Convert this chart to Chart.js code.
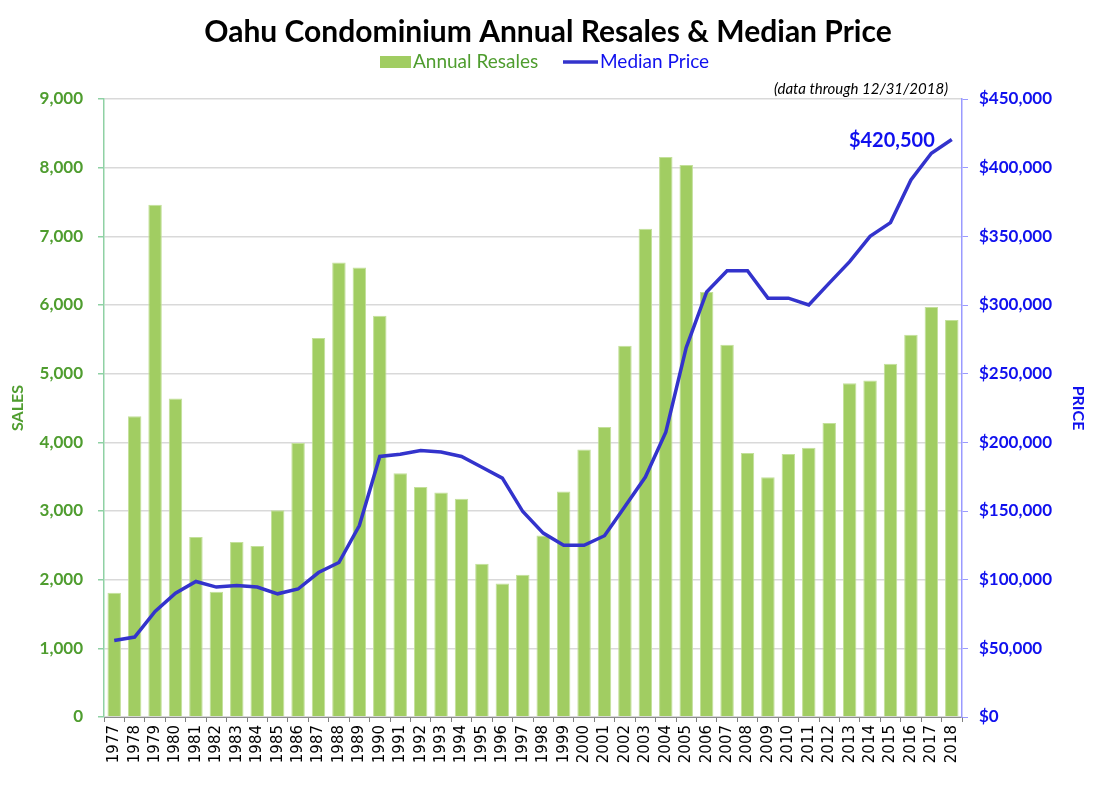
<!DOCTYPE html>
<html>
<head>
<meta charset="utf-8">
<script src="https://cdn.jsdelivr.net/npm/chart.js@4.4.1/dist/chart.umd.min.js"></script>
<style>
  html, body { margin: 0; padding: 0; background: #ffffff; }
  #wrap { width: 1096px; height: 800px; position: relative; }
</style>
</head>
<body>
<div id="wrap"><canvas id="c" width="1096" height="800"></canvas></div>
<script>
const years = ['1977','1978','1979','1980','1981','1982','1983','1984','1985','1986','1987','1988','1989','1990','1991','1992','1993','1994','1995','1996','1997','1998','1999','2000','2001','2002','2003','2004','2005','2006','2007','2008','2009','2010','2011','2012','2013','2014','2015','2016','2017','2018'];
const annualResales = [1810,4380,7460,4640,2620,1825,2550,2490,3010,3990,5520,6620,6545,5845,3550,3350,3270,3180,2230,1945,2070,2645,3285,3895,4225,5405,7110,8155,8040,6190,5420,3845,3490,3830,3920,4280,4860,4900,5145,5565,5970,5780];
const medianPrice = [55700,58200,76900,90200,98700,94600,95800,94600,89700,93200,105200,112500,139400,189700,191400,194000,192900,189700,181900,173900,149600,133900,125000,125000,132000,153300,174700,207400,269000,309500,325000,325000,305000,305000,300000,315900,331600,350000,360000,391000,410500,420500];
const salesTicks = [0,1000,2000,3000,4000,5000,6000,7000,8000,9000];
const priceTicks = [0,50000,100000,150000,200000,250000,300000,350000,400000,450000];
const titleText = 'Oahu Condominium Annual Resales & Median Price';
const noteText = '(data through 12/31/2018)';
const lastPriceLabel = '$420,500';

const GREEN_TXT = '#4f9d2f';
const BLUE_TXT = '#1010ee';
const BAR = '#a1cd62';
const LINE = '#3333cc';

const overlay = {
  id: 'overlay',
  afterDraw(chart) {
    const ctx = chart.ctx;
    ctx.save();
    // legend
    ctx.fillStyle = BAR;
    ctx.fillRect(380, 56, 31, 12);
    ctx.font = '19px Lato';
    ctx.textBaseline = 'middle';
    ctx.textAlign = 'left';
    ctx.fillStyle = GREEN_TXT;
    ctx.fillText('Annual Resales', 413, 62);
    ctx.strokeStyle = LINE;
    ctx.lineWidth = 3.5;
    ctx.beginPath();
    ctx.moveTo(563, 62);
    ctx.lineTo(598, 62);
    ctx.stroke();
    ctx.fillStyle = BLUE_TXT;
    ctx.fillText('Median Price', 600, 62);
    // note
    ctx.font = 'italic 15px Lato';
    ctx.fillStyle = '#000000';
    ctx.textAlign = 'right';
    ctx.fillText(noteText, 948, 89);
    // last price label
    const meta = chart.getDatasetMeta(1);
    const pt = meta.data[meta.data.length - 1];
    ctx.font = 'bold 20px Lato';
    ctx.fillStyle = BLUE_TXT;
    ctx.textAlign = 'right';
    ctx.fillText(lastPriceLabel, pt.x - 17, pt.y + 1);
    ctx.restore();
  }
};

new Chart(document.getElementById('c'), {
  data: {
    labels: years,
    datasets: [
      {
        type: 'bar',
        label: 'Annual Resales',
        data: annualResales,
        backgroundColor: BAR,
        borderColor: '#c3e09a',
        borderWidth: 1,
        barPercentage: 0.66,
        categoryPercentage: 1.0,
        yAxisID: 'y',
        order: 2
      },
      {
        type: 'line',
        label: 'Median Price',
        data: medianPrice,
        borderColor: LINE,
        backgroundColor: LINE,
        borderWidth: 3.5,
        pointRadius: 0,
        tension: 0,
        yAxisID: 'y1',
        order: 1
      }
    ]
  },
  options: {
    responsive: false,
    animation: false,
    devicePixelRatio: 1,
    layout: { padding: { top: 0, left: 0, right: 0, bottom: 0 } },
    plugins: {
      legend: { display: false },
      tooltip: { enabled: false },
      title: {
        display: true,
        text: titleText,
        color: '#000000',
        font: { family: 'Lato', size: 30, weight: 'bold' },
        padding: { top: 14, bottom: 49 }
      }
    },
    scales: {
      x: {
        type: 'category',
        grid: { display: true, drawOnChartArea: false, offset: true, color: '#7f7f7f', tickLength: 5 },
        border: { display: true, color: '#8c8c8c', width: 1 },
        ticks: {
          color: '#000000',
          font: { family: 'DejaVu Sans', size: 15 },
          minRotation: 90,
          maxRotation: 90,
          autoSkip: false,
          padding: 3
        },
        afterFit(s) { s.height = 83; }
      },
      y: {
        position: 'left',
        min: 0,
        max: 9000,
        afterBuildTicks(s) { s.ticks = salesTicks.map(v => ({ value: v })); },
        grid: { color: '#d9d9d9', lineWidth: 1.5, tickColor: '#8fd1a4', tickLength: 6 },
        border: { display: true, color: '#8fd1a4', width: 1.5 },
        ticks: {
          color: GREEN_TXT,
          font: { family: 'Lato', size: 17, weight: 'bold' },
          padding: 15,
          callback: v => v.toLocaleString('en-US')
        },
        title: {
          display: true,
          text: 'SALES',
          color: GREEN_TXT,
          font: { family: 'Lato', size: 16, weight: 'bold' },
          padding: { top: 8, bottom: 0 }
        },
        afterFit(s) { s.width = 104; }
      },
      y1: {
        position: 'right',
        min: 0,
        max: 450000,
        afterBuildTicks(s) { s.ticks = priceTicks.map(v => ({ value: v })); },
        grid: { drawOnChartArea: false, tickColor: '#9a9aff', tickLength: 6 },
        border: { display: true, color: '#9a9aff', width: 1.5 },
        ticks: {
          color: BLUE_TXT,
          font: { family: 'Lato', size: 17, weight: 'bold' },
          padding: 11,
          callback: v => '$' + v.toLocaleString('en-US')
        },
        title: {
          display: true,
          text: 'PRICE',
          color: BLUE_TXT,
          font: { family: 'Lato', size: 16, weight: 'bold' },
          padding: { top: 8, bottom: 0 }
        },
        afterFit(s) { s.width = 134; }
      }
    }
  },
  plugins: [overlay]
});
</script>
</body>
</html>
